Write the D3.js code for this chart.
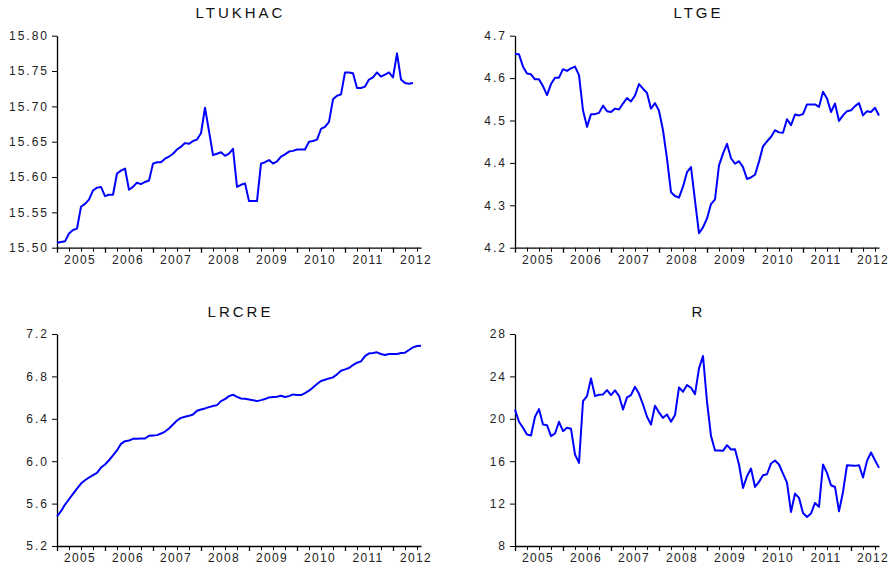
<!DOCTYPE html>
<html>
<head>
<meta charset="utf-8">
<script src="https://cdn.jsdelivr.net/npm/d3@7"></script>
<style>
  html, body { margin: 0; padding: 0; background: #fff; }
  svg { display: block; font-family: "Liberation Sans", Arial, sans-serif; }
  .title { font-size: 15px; letter-spacing: 3px; fill: #111; }
  .ylab { font-size: 12px; letter-spacing: 2px; fill: #222; }
  .xlab { font-size: 12px; letter-spacing: 1.3px; fill: #222; }
</style>
</head>
<body>
<svg id="chart" width="889" height="571"></svg>
<script>
// Monthly observations, 2005M01 .. 2012M08 (92 months)
const years = ["2005", "2006", "2007", "2008", "2009", "2010", "2011", "2012"];
const nObs = 92;

const ltukhac = [
  15.507, 15.508, 15.509, 15.520, 15.525, 15.527, 15.558, 15.562, 15.568, 15.581, 15.585, 15.586,
  15.573, 15.575, 15.575, 15.605, 15.609, 15.612, 15.582, 15.586, 15.592, 15.590, 15.593, 15.595,
  15.619, 15.621, 15.621, 15.626, 15.629, 15.633, 15.639, 15.643, 15.648, 15.647, 15.651, 15.653,
  15.662, 15.698, 15.665, 15.631, 15.633, 15.635, 15.630, 15.633, 15.640, 15.586, 15.589, 15.591,
  15.566, 15.566, 15.566, 15.619, 15.621, 15.624, 15.619, 15.622, 15.629, 15.632, 15.636, 15.637,
  15.639, 15.639, 15.639, 15.650, 15.651, 15.653, 15.668, 15.671, 15.678, 15.710, 15.715, 15.717,
  15.748, 15.748, 15.747, 15.726, 15.726, 15.728, 15.738, 15.741, 15.748, 15.742, 15.745, 15.748,
  15.741, 15.775, 15.738, 15.733, 15.732, 15.733, null, null
];

const ltge = [
  4.657, 4.656, 4.627, 4.611, 4.609, 4.597, 4.597, 4.581, 4.560, 4.586, 4.601, 4.601,
  4.621, 4.617, 4.623, 4.627, 4.607, 4.524, 4.485, 4.515, 4.515, 4.518, 4.535, 4.522,
  4.520, 4.528, 4.526, 4.540, 4.553, 4.545, 4.559, 4.586, 4.575, 4.565, 4.528, 4.541,
  4.523, 4.477, 4.410, 4.331, 4.322, 4.318, 4.344, 4.378, 4.390, 4.311, 4.234, 4.248,
  4.269, 4.303, 4.314, 4.394, 4.422, 4.445, 4.411, 4.398, 4.404, 4.390, 4.362, 4.366,
  4.372, 4.403, 4.439, 4.451, 4.461, 4.477, 4.472, 4.471, 4.503, 4.489, 4.514, 4.512,
  4.515, 4.538, 4.538, 4.538, 4.532, 4.568, 4.552, 4.520, 4.540, 4.499, 4.512, 4.522,
  4.524, 4.534, 4.541, 4.512, 4.522, 4.520, 4.530, 4.512
];

const lrcre = [
  5.480, 5.528, 5.591, 5.641, 5.691, 5.742, 5.789, 5.820, 5.846, 5.868, 5.890, 5.940,
  5.969, 6.009, 6.054, 6.101, 6.164, 6.189, 6.195, 6.211, 6.211, 6.214, 6.214, 6.239,
  6.243, 6.246, 6.261, 6.280, 6.309, 6.346, 6.384, 6.409, 6.419, 6.428, 6.441, 6.476,
  6.488, 6.498, 6.510, 6.520, 6.529, 6.567, 6.586, 6.614, 6.627, 6.607, 6.592, 6.589,
  6.583, 6.576, 6.567, 6.576, 6.586, 6.602, 6.605, 6.608, 6.617, 6.605, 6.614, 6.630,
  6.624, 6.624, 6.643, 6.665, 6.696, 6.728, 6.756, 6.769, 6.781, 6.791, 6.819, 6.854,
  6.866, 6.879, 6.907, 6.929, 6.942, 6.992, 7.017, 7.020, 7.027, 7.011, 7.002, 7.011,
  7.011, 7.011, 7.020, 7.024, 7.049, 7.074, 7.087, 7.090
];

const r = [
  20.88, 19.72, 19.15, 18.52, 18.43, 20.19, 20.91, 19.46, 19.40, 18.36, 18.61, 19.72,
  18.83, 19.15, 19.06, 16.63, 15.84, 21.67, 22.14, 23.81, 22.14, 22.27, 22.30, 22.71,
  22.24, 22.68, 22.17, 20.88, 22.02, 22.24, 23.02, 22.36, 21.35, 20.19, 19.46, 21.23,
  20.60, 20.09, 20.41, 19.72, 20.35, 22.96, 22.55, 23.18, 22.93, 22.33, 24.76, 25.92,
  21.61, 18.39, 17.01, 17.01, 16.98, 17.51, 17.10, 17.13, 15.69, 13.48, 14.58, 15.31,
  13.57, 14.05, 14.68, 14.77, 15.78, 16.06, 15.69, 14.83, 13.98, 11.21, 12.94, 12.54,
  11.12, 10.74, 11.06, 12.06, 11.69, 15.69, 14.90, 13.73, 13.57, 11.28, 13.10, 15.62,
  15.59, 15.56, 15.62, 14.46, 16.03, 16.82, 16.09, 15.37
];

const ltukhacTicks = [15.50, 15.55, 15.60, 15.65, 15.70, 15.75, 15.80];
const ltgeTicks = [4.2, 4.3, 4.4, 4.5, 4.6, 4.7];
const lrcreTicks = [5.2, 5.6, 6.0, 6.4, 6.8, 7.2];
const rTicks = [8, 12, 16, 20, 24, 28];

const panels = [
  { name: "LTUKHAC", values: ltukhac, ticks: ltukhacTicks, fmt: ".2f", left: 57,  top: 35.7, titleY: 17.5 },
  { name: "LTGE",    values: ltge,    ticks: ltgeTicks,    fmt: ".1f", left: 515, top: 35.7, titleY: 17.5 },
  { name: "LRCRE",   values: lrcre,   ticks: lrcreTicks,   fmt: ".1f", left: 57,  top: 334,  titleY: 316.5 },
  { name: "R",       values: r,       ticks: rTicks,       fmt: "d",   left: 515, top: 334,  titleY: 316.5 }
];

const plotW = 364, plotH = 212;
const pageW = 889;
const svg = d3.select("#chart");

panels.forEach(p => {
  const g = svg.append("g").attr("transform", `translate(${p.left},${p.top})`);

  const x = d3.scaleLinear().domain([0, nObs - 1]).range([0, plotW]);
  const y = d3.scaleLinear().domain(d3.extent(p.ticks)).range([plotH, 0]);

  // title
  svg.append("text")
    .attr("class", "title")
    .attr("x", p.left + plotW / 2 + 1.5)
    .attr("y", p.titleY)
    .attr("text-anchor", "middle")
    .text(p.name);

  // y axis
  const ya = g.append("g")
    .call(d3.axisLeft(y).tickValues(p.ticks).tickFormat(d3.format(p.fmt)).tickSize(5).tickSizeOuter(0).tickPadding(5));
  ya.select(".domain").attr("stroke", "#000").attr("stroke-width", 1.3);
  ya.selectAll(".tick line").attr("stroke", "#000");
  ya.selectAll(".tick text").attr("class", "ylab").attr("font-family", null).attr("font-size", null)
    .attr("fill", null).attr("dx", "2px");

  // x axis: quarterly ticks, longer at year boundaries
  const xa = g.append("g")
    .attr("transform", `translate(0,${plotH})`)
    .call(d3.axisBottom(x).tickValues(d3.range(0, nObs, 3)).tickFormat("").tickSizeOuter(0));
  xa.select(".domain").attr("stroke", "#000").attr("stroke-width", 1.3);
  xa.selectAll(".tick line").attr("stroke", "#000")
    .attr("y2", d => d % 12 === 0 ? 5 : 4)
    .attr("stroke-width", d => d % 12 === 0 ? 1.3 : 1);

  // year labels centred on each year, kept inside the page
  xa.selectAll(".year")
    .data(years)
    .join("text")
    .attr("class", "xlab")
    .attr("x", (d, i) => Math.min(x(i * 12 + 5.5) + 1, pageW - p.left - 16))
    .attr("y", 16)
    .attr("text-anchor", "middle")
    .text(d => d);

  // series
  const line = d3.line()
    .defined(v => v !== null)
    .x((v, i) => x(i))
    .y(v => y(v));

  g.append("path")
    .datum(p.values)
    .attr("fill", "none")
    .attr("stroke", "#0000ff")
    .attr("stroke-width", 2)
    .attr("stroke-linejoin", "round")
    .attr("d", line);
});
</script>
</body>
</html>
